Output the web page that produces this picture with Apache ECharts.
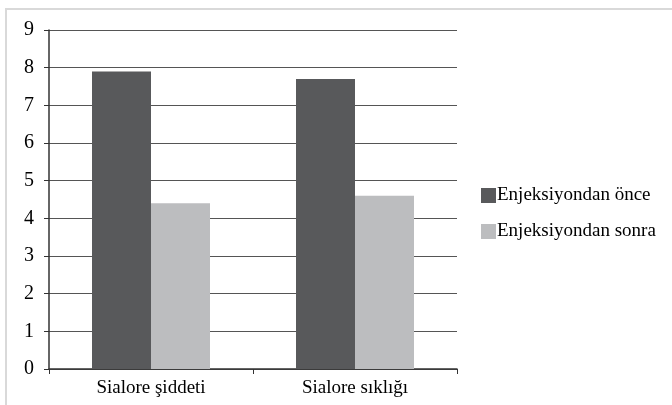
<!DOCTYPE html>
<html>
<head>
<meta charset="utf-8">
<script src="https://cdn.jsdelivr.net/npm/echarts@6/dist/echarts.min.js"></script>
<style>
  html, body { margin: 0; padding: 0; background: #fff; }
  #frame { position: absolute; left: 5px; top: 8px; width: 700px; height: 420px;
           border-left: 2px solid #d9d9d9; border-top: 2px solid #d9d9d9; }
  #chart { position: absolute; left: 0; top: 0; width: 672px; height: 405px; }
</style>
</head>
<body>
<div id="frame"></div>
<div id="chart"></div>
<script>
// veriler
const categories = ['Sialore şiddeti', 'Sialore sıklığı'];
const seriesNames = ['Enjeksiyondan önce', 'Enjeksiyondan sonra'];
const onceValues = [7.9, 7.7];
const sonraValues = [4.4, 4.6];
const colors = ['#58595b', '#bcbdbf'];

const font = 'Liberation Serif';

const chart = echarts.init(document.getElementById('chart'));
chart.setOption({
  animation: false,
  textStyle: { fontFamily: font },
  grid: { left: 49, top: 30, width: 408, height: 339 },
  legend: {
    orient: 'vertical',
    left: 476,
    top: 181,
    itemWidth: 15,
    itemHeight: 15,
    itemGap: 17,
    icon: 'rect',
    textStyle: { fontFamily: font, fontSize: 19, color: '#000', padding: [0, 0, 0, -4] },
    data: seriesNames
  },
  xAxis: {
    type: 'category',
    data: categories,
    axisLine: { lineStyle: { color: '#333', width: 1.5 } },
    axisTick: { show: true, length: 5, lineStyle: { color: '#333' } },
    axisLabel: { fontFamily: font, color: '#000', fontSize: 19, margin: 10 }
  },
  yAxis: {
    type: 'value',
    min: 0,
    max: 9,
    interval: 1,
    axisLine: { show: true, lineStyle: { color: '#333', width: 1.5 } },
    axisTick: { show: true, length: 5, lineStyle: { color: '#333' } },
    axisLabel: { fontFamily: font, color: '#000', fontSize: 20, margin: 15 },
    splitLine: { lineStyle: { color: '#555', width: 1.2 } }
  },
  series: [
    {
      name: seriesNames[0],
      type: 'bar',
      data: onceValues,
      itemStyle: { color: colors[0] },
      barWidth: 59,
      barGap: '0%'
    },
    {
      name: seriesNames[1],
      type: 'bar',
      data: sonraValues,
      itemStyle: { color: colors[1] },
      barWidth: 59,
      barGap: '0%'
    }
  ]
});
</script>
</body>
</html>
